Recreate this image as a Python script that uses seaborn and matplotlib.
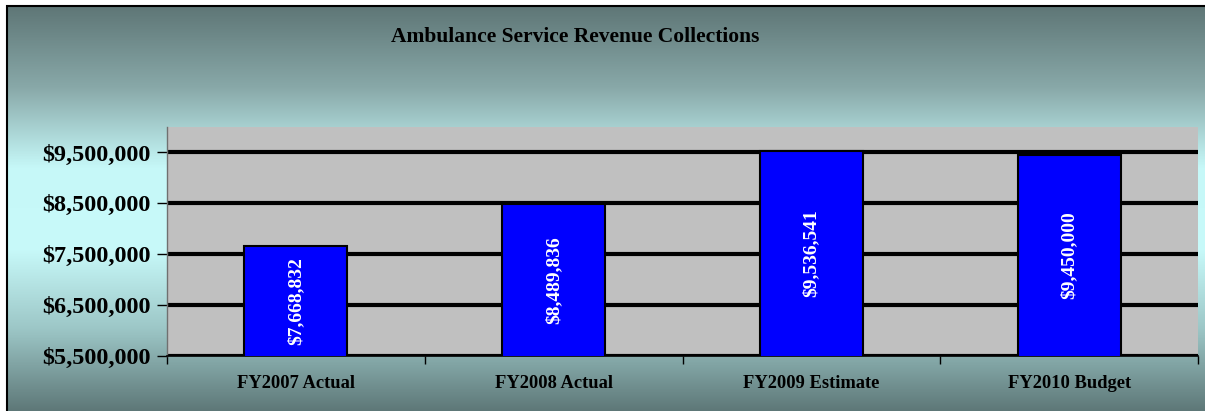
import numpy as np
import pandas as pd
import matplotlib
matplotlib.use("Agg")
import matplotlib.pyplot as plt
from matplotlib.colors import LinearSegmentedColormap
from matplotlib.patches import Rectangle
import seaborn as sns

# Revenue collections by fiscal year
categories = ["FY2007 Actual", "FY2008 Actual", "FY2009 Estimate", "FY2010 Budget"]
revenue = [7668832, 8489836, 9536541, 9450000]
bar_labels = ["$7,668,832", "$8,489,836", "$9,536,541", "$9,450,000"]
y_ticks = [5500000, 6500000, 7500000, 8500000, 9500000]
y_tick_labels = ["$5,500,000", "$6,500,000", "$7,500,000", "$8,500,000", "$9,500,000"]
title = "Ambulance Service Revenue Collections"

sns.set_theme(style="white")
plt.rcParams["font.family"] = ["Liberation Serif", "DejaVu Serif"]

W, H, DPI = 1205, 411, 100
fig = plt.figure(figsize=(W / DPI, H / DPI), dpi=DPI)
fig.patch.set_facecolor("white")

# Dark-light-dark vertical gradient behind the chart, framed by a thin border
bx0, by0 = 7 / W, 1 - 6 / H
bg_ax = fig.add_axes([bx0, 0, 1 - bx0, by0], zorder=0)
grad_cmap = LinearSegmentedColormap.from_list(
    "bg", ["#5e7676", "#88a8a8", "#c6f8f8", "#c8fafa", "#9cc6c6", "#5e7878"]
)
grad = np.linspace(0, 1, 256).reshape(-1, 1)
bg_ax.imshow(grad, aspect="auto", cmap=grad_cmap, extent=[0, 1, 0, 1], origin="upper")
bg_ax.set_axis_off()
fig.add_artist(Rectangle((bx0, -0.1), 1.2, by0 + 0.1, transform=fig.transFigure,
                         fill=False, edgecolor="black", linewidth=1.5, zorder=1))

# Plot area
ax = fig.add_axes([167 / W, 1 - 356 / H, (1198 - 167) / W, (356 - 127) / H], zorder=2)
ax.set_facecolor("#c0c0c0")

df = pd.DataFrame({"category": categories, "revenue": revenue})
sns.barplot(data=df, x="category", y="revenue", color="#0000ff", saturation=1,
            width=0.4, edgecolor="black", linewidth=1.5, ax=ax, zorder=3)

ax.set_ylim(5500000, 10000000)
ax.set_xlim(-0.5, len(categories) - 0.5)
ax.set_yticks(y_ticks)
ax.set_yticklabels(y_tick_labels, fontsize=17.4, fontweight="bold", color="black")
ax.yaxis.grid(True, color="black", linewidth=3, zorder=1)
ax.xaxis.grid(False)
ax.set_axisbelow(True)

ax.tick_params(axis="y", which="major", direction="out", length=7, width=1,
               color="black", left=True, pad=5)
ax.tick_params(axis="x", which="major", length=0, pad=14)
ax.set_xticks(np.arange(-0.5, len(categories), 1.0), minor=True)
ax.tick_params(axis="x", which="minor", direction="out", length=6, width=1,
               color="black", bottom=True)
for lbl in ax.get_xticklabels():
    lbl.set_fontsize(13.3)
    lbl.set_fontweight("bold")
    lbl.set_color("black")
ax.set_xlabel("")
ax.set_ylabel("")

for side in ("top", "right"):
    ax.spines[side].set_visible(False)
ax.spines["left"].set_color("#707070")
ax.spines["left"].set_linewidth(1)
ax.spines["bottom"].set_color("black")
ax.spines["bottom"].set_linewidth(1.2)

# Value labels, rotated and centered inside each bar
for i, (val, txt) in enumerate(zip(revenue, bar_labels)):
    mid = (ax.get_ylim()[0] + val) / 2
    ax.text(i, mid, txt, rotation=90, ha="center", va="center", color="white",
            fontsize=14, fontweight="bold", zorder=5)

fig.text(575 / W, 1 - 37 / H, title, ha="center", va="center",
         fontsize=15.5, fontweight="bold", color="black", zorder=3)

fig.savefig("out.png", dpi=DPI)
